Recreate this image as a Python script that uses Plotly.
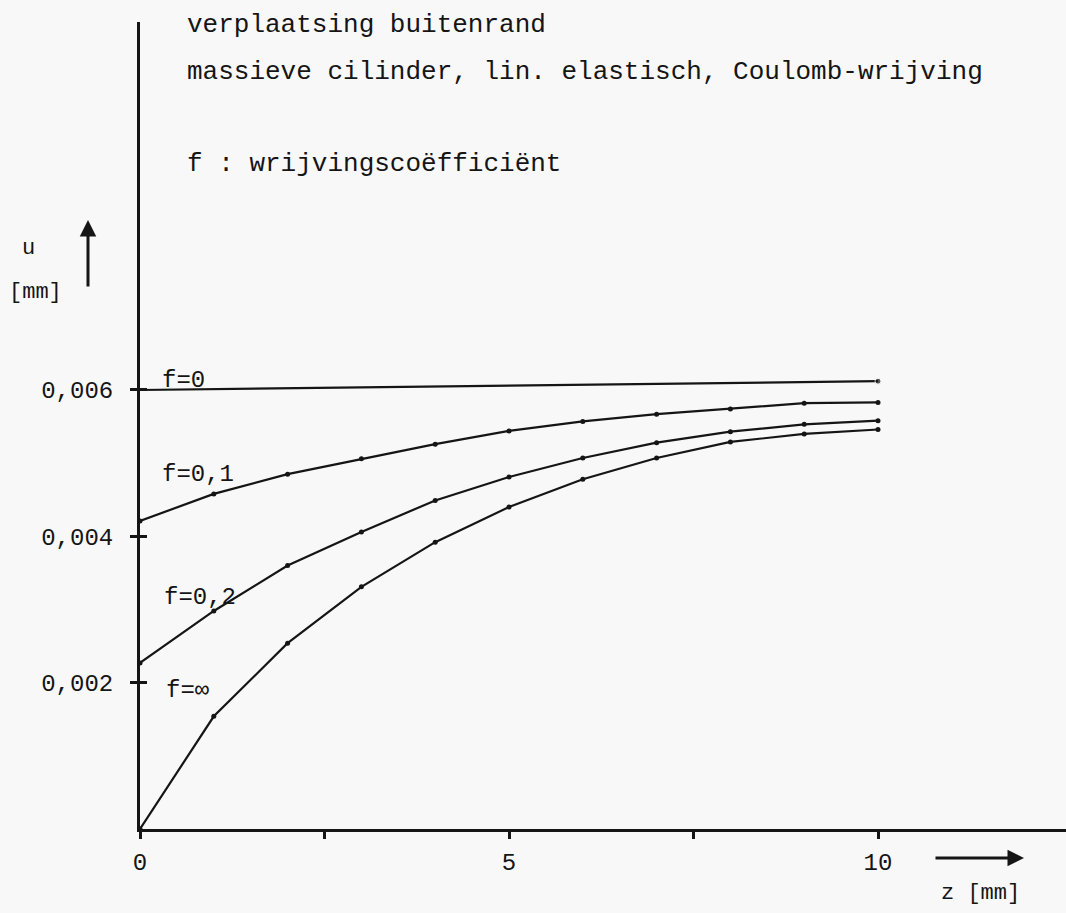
import plotly.graph_objects as go

# ---- data (z in mm, u in mm) ----
z = [0, 1, 2, 3, 4, 5, 6, 7, 8, 9, 10]
z_f0 = [0, 10]
u_f0 = [0.00600, 0.00612]
u_f01 = [0.00421, 0.00458, 0.00485, 0.00506, 0.00526, 0.00544,
         0.00557, 0.00567, 0.00574, 0.00582, 0.00583]
u_f02 = [0.00227, 0.00298, 0.00360, 0.00406, 0.00449, 0.00481,
         0.00507, 0.00528, 0.00543, 0.00553, 0.00558]
u_finf = [0.00000, 0.00154, 0.00254, 0.00331, 0.00392, 0.00440,
          0.00478, 0.00507, 0.00529, 0.00540, 0.00546]

x_tickvals = [0, 2.5, 5, 7.5, 10]
x_ticktext = ["0", "", "5", "", "10"]
y_tickvals = [0.002, 0.004, 0.006]
y_ticktext = ["0,002", "0,004", "0,006"]

curve_labels = ["f=0", "f=0,1", "f=0,2", "f=\u221e"]
title_lines = ["verplaatsing buitenrand",
               "massieve cilinder, lin. elastisch, Coulomb-wrijving",
               "f : wrijvingsco\u00ebffici\u00ebnt"]

# ---- layout geometry ----
W, H = 1066, 913
ML, MR, MT, MB = 140, 0, 22, 84
PW, PH = W - ML - MR, H - MT - MB
XMAX = PW / 73.8
YMAX = PH / 73.17 * 0.001

INK = "#151515"
BG = "#f8f8f8"
MONO = "Liberation Mono"


def px(xp):
    return (xp - ML) / PW


def py(yp):
    return (H - MB - yp) / PH


fig = go.Figure()
line = dict(color=INK, width=2.2)
mk = dict(color=INK, size=5)

fig.add_trace(go.Scatter(x=z_f0, y=u_f0, mode="lines+markers", line=line,
                         marker=dict(color=INK, size=[0, 6]),
                         xaxis="x", yaxis="y2", showlegend=False))
for u in (u_f01, u_f02, u_finf):
    fig.add_trace(go.Scatter(x=z, y=u, mode="lines+markers", line=line,
                             marker=mk, showlegend=False))

tickfont = dict(family=MONO, size=24, color=INK)
fig.update_layout(
    width=W, height=H, autosize=False,
    margin=dict(l=ML, r=MR, t=MT, b=MB),
    paper_bgcolor=BG, plot_bgcolor=BG,
    xaxis=dict(range=[0, XMAX], showline=True, linewidth=3, linecolor=INK,
               showgrid=False, zeroline=False, tickvals=x_tickvals,
               ticktext=x_ticktext, ticks="outside", ticklen=7, tickwidth=3,
               tickcolor=INK, tickfont=tickfont, ticklabelstandoff=2),
    yaxis=dict(range=[0, YMAX], showline=True, linewidth=3, linecolor=INK,
               showgrid=False, zeroline=False, tickvals=y_tickvals,
               ticktext=y_ticktext, ticks="outside", ticklen=7, tickwidth=3,
               tickcolor=INK, tickfont=tickfont, ticklabelstandoff=12),
    yaxis2=dict(range=[0, YMAX], overlaying="y", anchor="x", side="left",
                showline=False, showgrid=False, zeroline=False,
                tickvals=y_tickvals, ticks="inside", ticklen=7, tickwidth=3,
                tickcolor=INK, showticklabels=False),
)

ann = []
# title lines
for txt, yb in zip(title_lines, [25, 72, 164]):
    ann.append(dict(text=txt, x=px(185), y=py(yb), xref="paper", yref="paper",
                    xanchor="left", yanchor="middle", showarrow=False,
                    font=dict(family=MONO, size=26, color=INK)))
# curve labels
for txt, (xl, yc) in zip(curve_labels, [(160, 381), (160, 474), (162, 597), (164, 690)]):
    ann.append(dict(text=txt, x=px(xl), y=py(yc), xref="paper", yref="paper",
                    xanchor="left", yanchor="middle", showarrow=False,
                    font=dict(family=MONO, size=24, color=INK)))
# axis titles
ann.append(dict(text="u", x=px(28), y=py(248), xref="paper", yref="paper",
                xanchor="center", yanchor="middle", showarrow=False,
                font=dict(family=MONO, size=22, color=INK)))
ann.append(dict(text="[mm]", x=px(35), y=py(292), xref="paper", yref="paper",
                xanchor="center", yanchor="middle", showarrow=False,
                font=dict(family=MONO, size=22, color=INK)))
ann.append(dict(text="z [mm]", x=px(980), y=py(893), xref="paper", yref="paper",
                xanchor="center", yanchor="middle", showarrow=False,
                font=dict(family=MONO, size=22, color=INK)))
# arrows
ann.append(dict(text="", x=px(88), y=py(220), xref="paper", yref="paper",
                showarrow=True, ax=0, ay=68, arrowhead=2, arrowsize=1.1,
                arrowwidth=3, arrowcolor=INK, standoff=0))
ann.append(dict(text="", x=px(1024), y=py(858), xref="paper", yref="paper",
                showarrow=True, ax=-90, ay=0, arrowhead=2, arrowsize=1.1,
                arrowwidth=3, arrowcolor=INK, standoff=0))
fig.update_layout(annotations=ann)

fig.write_html(
    "out.html",
    config={"displayModeBar": False},
    post_script="document.body.style.margin='0';"
                "document.body.style.overflow='hidden';"
                "document.body.style.background='%s';" % BG,
)
